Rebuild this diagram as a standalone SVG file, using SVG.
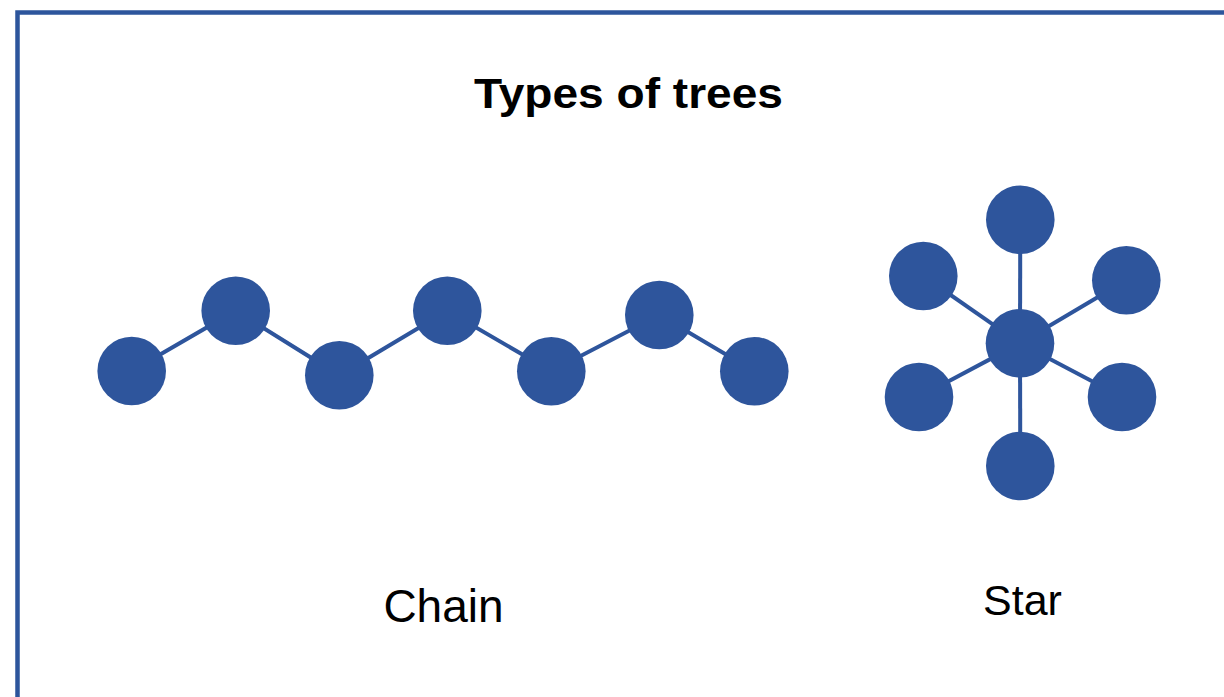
<svg xmlns="http://www.w3.org/2000/svg" width="1224" height="697" viewBox="0 0 1224 697">
  <style>
    .frame { fill: none; stroke: #2d559c; stroke-width: 4.5; }
    .node { fill: #2e559c; }
    .edge { stroke: #2e559c; stroke-width: 4; fill: none; }
    .title { font-family: "Liberation Sans", Arial, sans-serif; font-weight: bold; font-size: 42px; fill: #000; text-anchor: middle; }
    .label { font-family: "Liberation Sans", Arial, sans-serif; fill: #000; text-anchor: middle; }
  </style>
  <rect width="1224" height="697" fill="#ffffff"/>
  <!-- outer frame, running past the right and bottom edges -->
  <rect class="frame" x="17.5" y="12.5" width="1240" height="720"/>

  <text class="title" x="628.5" y="108" textLength="309" lengthAdjust="spacingAndGlyphs">Types of trees</text>

  <!-- connectors -->
  <g id="connectors">
    <!-- chain -->
    <polyline class="edge" points="131.7,371 235.7,310.7 339.3,375.3 447.3,310.7 551.3,371.3 659.3,315 754.3,371.3"/>
    <!-- star -->
    <line class="edge" x1="1020" y1="343.3" x2="1020.3" y2="219.7"/>
    <line class="edge" x1="1020" y1="343.3" x2="923.3" y2="276"/>
    <line class="edge" x1="1020" y1="343.3" x2="1126.3" y2="280.3"/>
    <line class="edge" x1="1020" y1="343.3" x2="919" y2="397"/>
    <line class="edge" x1="1020" y1="343.3" x2="1122" y2="397"/>
    <line class="edge" x1="1020" y1="343.3" x2="1020.3" y2="466"/>
  </g>

  <!-- chain tree -->
  <g id="chain-1"><circle class="node" cx="131.7" cy="371" r="34.3"/></g>
  <g id="chain-2"><circle class="node" cx="235.7" cy="310.7" r="34.3"/></g>
  <g id="chain-3"><circle class="node" cx="339.3" cy="375.3" r="34.3"/></g>
  <g id="chain-4"><circle class="node" cx="447.3" cy="310.7" r="34.3"/></g>
  <g id="chain-5"><circle class="node" cx="551.3" cy="371.3" r="34.3"/></g>
  <g id="chain-6"><circle class="node" cx="659.3" cy="315" r="34.3"/></g>
  <g id="chain-7"><circle class="node" cx="754.3" cy="371.3" r="34.3"/></g>

  <!-- star tree -->
  <g id="star-hub"><circle class="node" cx="1020" cy="343.3" r="34.3"/></g>
  <g id="star-top"><circle class="node" cx="1020.3" cy="219.7" r="34.3"/></g>
  <g id="star-upper-left"><circle class="node" cx="923.3" cy="276" r="34.3"/></g>
  <g id="star-upper-right"><circle class="node" cx="1126.3" cy="280.3" r="34.3"/></g>
  <g id="star-lower-left"><circle class="node" cx="919" cy="397" r="34.3"/></g>
  <g id="star-lower-right"><circle class="node" cx="1122" cy="397" r="34.3"/></g>
  <g id="star-bottom"><circle class="node" cx="1020.3" cy="466" r="34.3"/></g>

  <text class="label" x="443.5" y="621.7" font-size="46">Chain</text>
  <text class="label" x="1022.5" y="615" font-size="43">Star</text>
</svg>
